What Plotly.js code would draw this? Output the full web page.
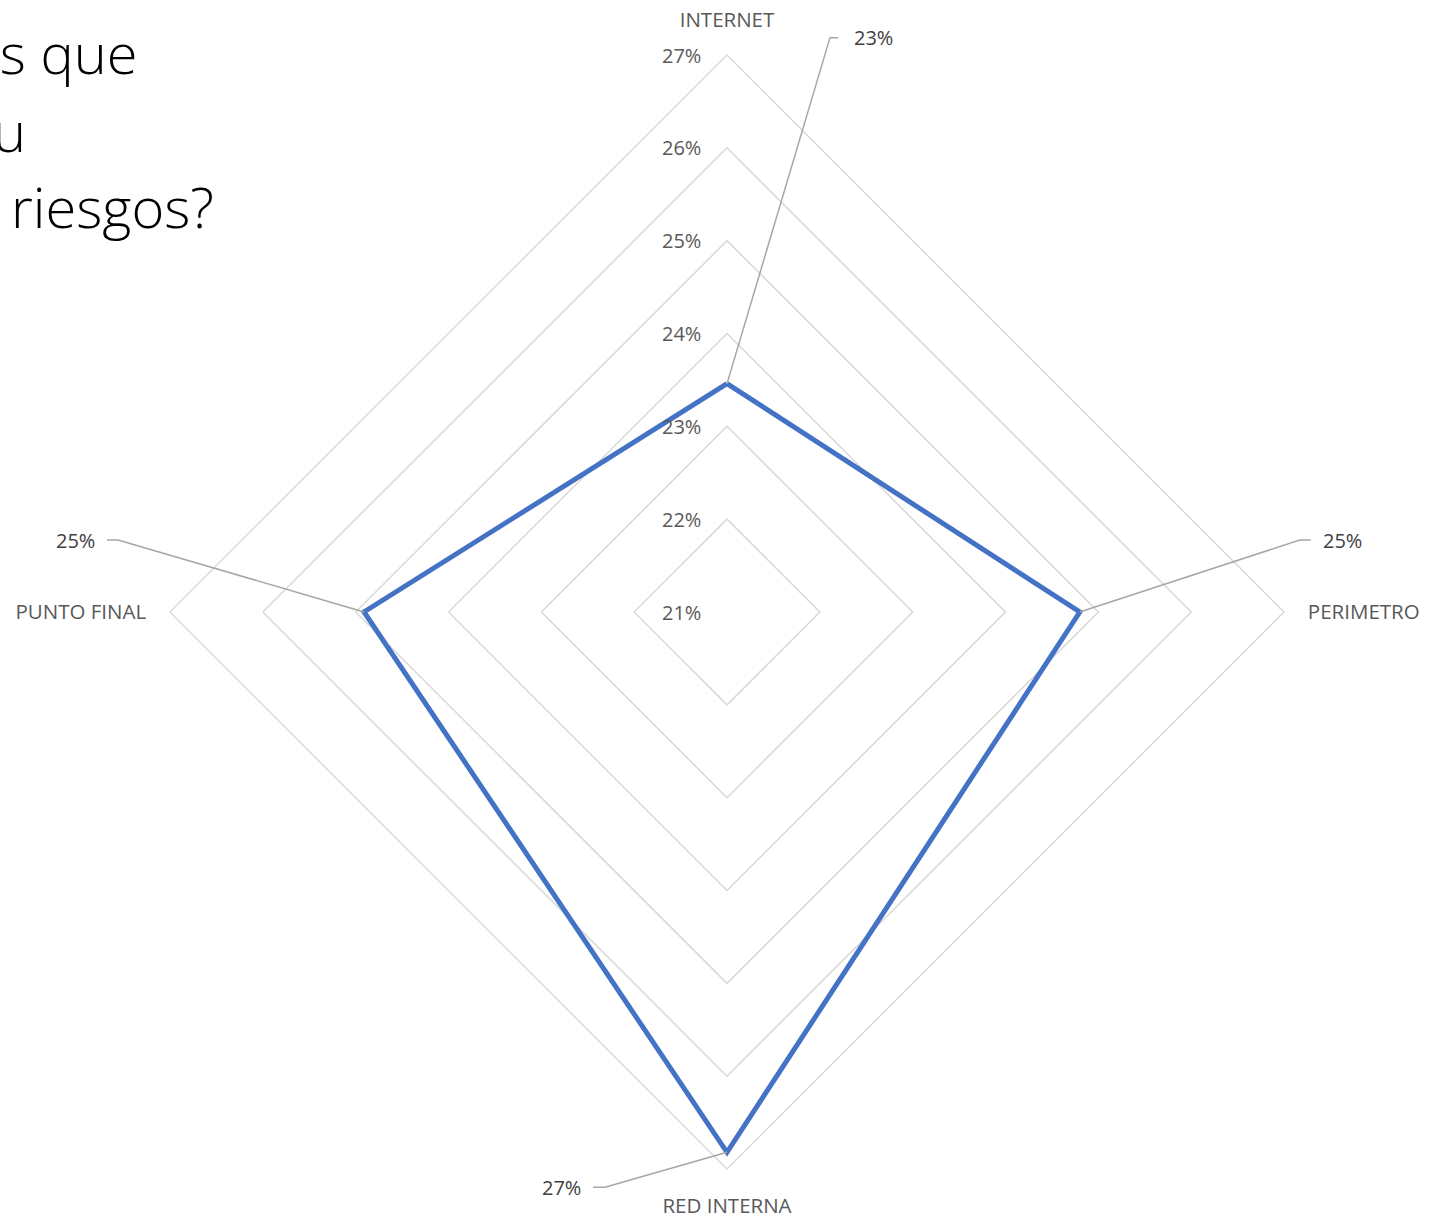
<!DOCTYPE html>
<html>
<head>
<meta charset="utf-8">
<script src="https://cdn.plot.ly/plotly-3.0.1.min.js"></script>
<style>html,body{margin:0;padding:0;background:#fff;}#chart{width:1445px;height:1218px;}</style>
</head>
<body>
<div id="chart"></div>
<script>
// ---- data ----
const categories = ["INTERNET", "PERIMETRO", "RED INTERNA", "PUNTO FINAL"];
const values = [23.46, 24.80, 26.82, 24.91];           // percent
const radialTicks = [21, 22, 23, 24, 25, 26, 27];
const radialTickLabels = ["21%", "22%", "23%", "24%", "25%", "26%", "27%"];
const titleLines = ["os que", "u", "riesgos?"];

// ---- layout geometry (styles) ----
const W = 1445, H = 1218;
const CX = 727, CY = 612, R = 557;
const domX = [(CX - R) / W, (CX + R) / W];
const domY = [(H - CY - R) / H, (H - CY + R) / H];
const rMin = 21, rMax = 27;
// label leader-line offsets (pixels from point): [elbowDx, elbowDy, endDx, endDy, labelDx, side]
const labelOffsets = [
  [103, -346, 111, -346, 14, "left"],
  [220, -72, 231, -72, 10, "left"],
  [-122, 35, -134, 35, -10, "right"],
  [-246, -72, -257, -72, -10, "right"]
];
const offsetFor = {"INTERNET":0, "PERIMETRO":1, "RED INTERNA":2, "PUNTO FINAL":3};

function pointPx(i, v) {
  const r = (v - rMin) / (rMax - rMin) * R;
  const th = (90 - 90 * i) * Math.PI / 180;
  return [CX + r * Math.cos(th), CY - r * Math.sin(th)];
}
const px2x = p => p / W, px2y = p => 1 - p / H;

const shapes = [], annotations = [];
categories.forEach((c, i) => {
  const [x0, y0] = pointPx(i, values[i]);
  const o = labelOffsets[offsetFor[c]];
  const ex = x0 + o[0], ey = y0 + o[1], fx = x0 + o[2], fy = y0 + o[3];
  shapes.push({
    type: "path", xref: "paper", yref: "paper",
    path: `M ${px2x(x0)} ${px2y(y0)} L ${px2x(ex)} ${px2y(ey)} L ${px2x(fx)} ${px2y(fy)}`,
    line: {color: "#a6a6a6", width: 1.5}
  });
  annotations.push({
    xref: "paper", yref: "paper", x: px2x(fx + o[4]), y: px2y(fy),
    xanchor: o[5], yanchor: "middle", showarrow: false,
    text: Math.round(values[i]) + "%",
    font: {family: "Open Sans, sans-serif", size: 20, color: "#404040"}
  });
});

// radial tick labels drawn as text beside the INTERNET spoke
radialTicks.forEach((t, k) => {
  const [x, y] = pointPx(0, t);
  annotations.push({
    xref: "paper", yref: "paper", x: px2x(x - 24), y: px2y(y),
    xanchor: "right", yanchor: "middle", showarrow: false,
    text: radialTickLabels[k],
    font: {family: "Open Sans, sans-serif", size: 20, color: "#595959"}
  });
});

// partial slide title (cropped at left edge)
const titleRightPx = [140, 28, 216];
const titleYPx = [52, 130, 206];
titleLines.forEach((t, i) => {
  annotations.push({
    xref: "paper", yref: "paper", x: px2x(titleRightPx[i]), y: px2y(titleYPx[i]),
    xanchor: "right", yanchor: "middle", showarrow: false, text: t,
    font: {family: "Open Sans, sans-serif", size: 56, color: "#000000", weight: 300}
  });
});

const trace = {
  type: "scatterpolar",
  r: values.concat([values[0]]),
  theta: categories.concat([categories[0]]),
  mode: "lines",
  line: {color: "#4472C4", width: 5},
  hoverinfo: "skip"
};

const layout = {
  width: W, height: H,
  margin: {l: 0, r: 0, t: 0, b: 0},
  paper_bgcolor: "#ffffff",
  showlegend: false,
  font: {family: "Open Sans, sans-serif", size: 20, color: "#595959"},
  polar: {
    domain: {x: domX, y: domY},
    bgcolor: "rgba(0,0,0,0)",
    gridshape: "linear",
    radialaxis: {
      range: [rMin, rMax],
      angle: 90,
      tickmode: "array",
      tickvals: radialTicks,
      showticklabels: false,
      showline: false,
      ticks: "",
      gridcolor: "#d9d9d9", gridwidth: 1.5
    },
    angularaxis: {
      direction: "clockwise",
      rotation: 90,
      showgrid: false,
      showline: true, linecolor: "#d9d9d9", linewidth: 1.5,
      ticks: "outside", ticklen: 19, tickcolor: "rgba(0,0,0,0)",
      tickfont: {family: "Open Sans, sans-serif", size: 20.5, color: "#595959"}
    }
  },
  shapes: shapes,
  annotations: annotations
};

Plotly.newPlot("chart", [trace], layout, {staticPlot: true, displayModeBar: false});
</script>
</body>
</html>
